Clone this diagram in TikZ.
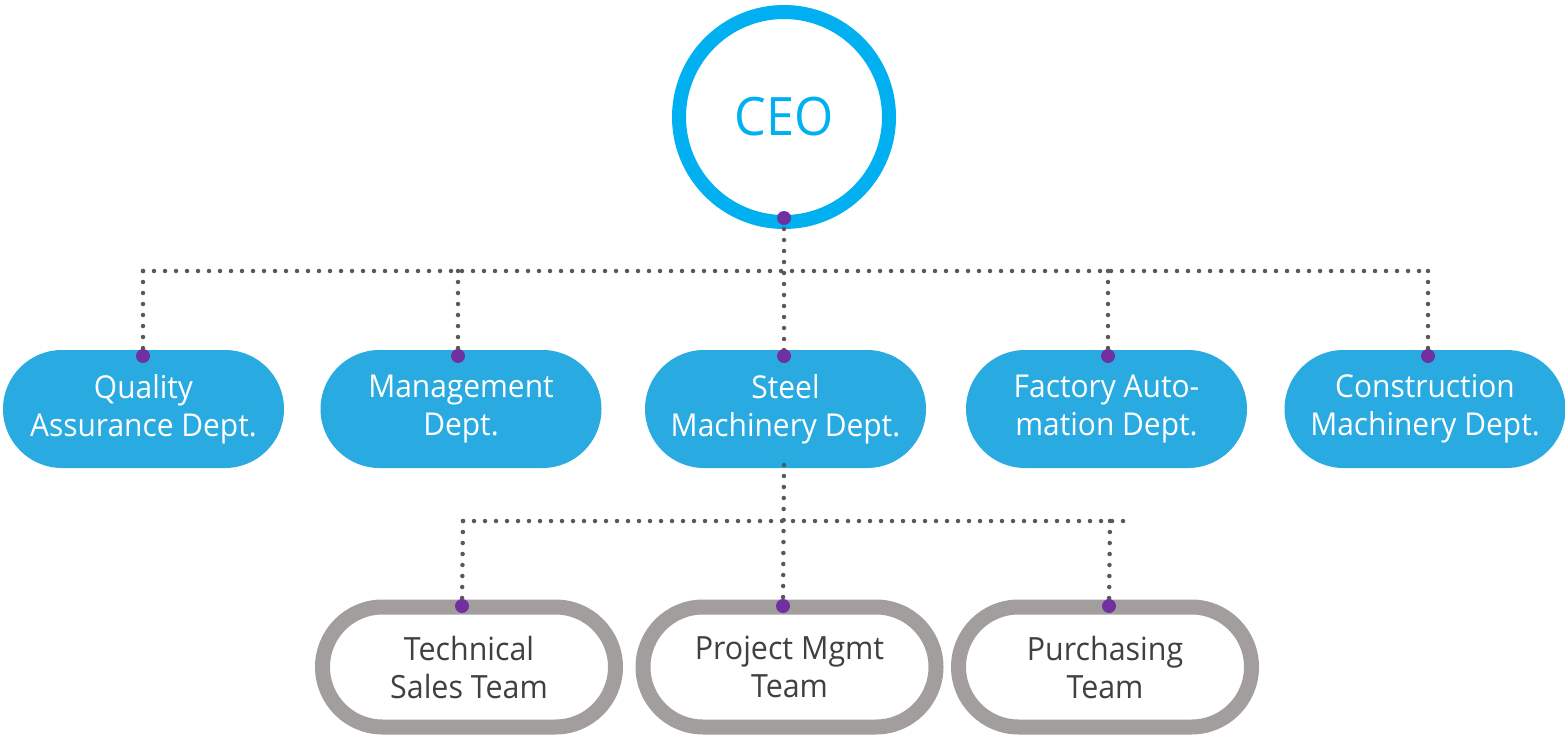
\documentclass[tikz,border=0pt]{standalone}
\usepackage{fontspec}
\setmainfont{Open Sans}[FakeStretch=0.95]
\definecolor{ceoblue}{HTML}{00B0F0}
\definecolor{deptblue}{HTML}{29ABE2}
\definecolor{ringgray}{HTML}{A39E9E}
\definecolor{dotgray}{HTML}{595959}
\definecolor{pdot}{HTML}{7030A0}
\definecolor{teamtext}{HTML}{404040}
\tikzset{
  ceobox/.style={circle, draw=ceoblue, line width=14pt, fill=white, minimum size=210pt, inner sep=0pt, text=ceoblue, font=\fontsize{53}{60}\selectfont},
  deptbox/.style={rectangle, fill=deptblue, minimum width=281pt, minimum height=118pt, rounded corners=59pt, inner sep=0pt, text=white, align=center, font=\fontsize{31.5}{38}\selectfont},
  teambox/.style={rectangle, draw=ringgray, line width=15pt, fill=white, minimum width=293pt, minimum height=120pt, rounded corners=60pt, inner sep=0pt, text=teamtext, align=center, font=\fontsize{32}{38}\selectfont},
  dotline/.style={draw=dotgray, line width=4.5pt, line cap=round, dash pattern=on 0pt off 11pt},
  pdotstyle/.style={fill=pdot, draw=none},
}
\begin{document}
\begin{tikzpicture}[x=1pt,y=-1pt]
\useasboundingbox (0,0) rectangle (1565,735);
% nodes
\node[ceobox] (ceo) at (784,117) {CEO};
\node[deptbox] (qa) at (143.5,409) {Quality\\Assurance Dept.};
\node[deptbox] (mg) at (461,409) {Management\\Dept.};
\node[deptbox] (st) at (785.5,409) {Steel\\Machinery Dept.};
\node[deptbox] (fa) at (1106.5,409) {Factory Auto-\\mation Dept.};
\node[deptbox] (cm) at (1425,409) {Construction\\Machinery Dept.};
\node[teambox] (ts) at (469,667) {Technical\\Sales Team};
\node[teambox] (pm) at (789.5,667) {Project Mgmt\\Team};
\node[teambox] (pu) at (1105,667) {Purchasing\\Team};
% connection points
\coordinate (dceo) at (784,218);
\coordinate (dqa) at (143,356);
\coordinate (dmg) at (458,356);
\coordinate (dst) at (784,356);
\coordinate (dfa) at (1108,356);
\coordinate (dcm) at (1428,356);
\coordinate (dts) at (462,606);
\coordinate (dpm) at (783,606);
\coordinate (dpu) at (1109,606);
\coordinate (bst) at (784,465);
\coordinate (h1) at (143,271);
\coordinate (h1e) at (1428,271);
\coordinate (h2) at (463,521);
\coordinate (h2e) at (1128,521);
% connectors level 1
\draw[dotline] (dceo) -- (dst);
\draw[dotline] (h1) -- (h1e);
\draw[dotline] (h1) -- (dqa);
\draw[dotline] (dmg |- h1) -- (dmg);
\draw[dotline] (dfa |- h1) -- (dfa);
\draw[dotline] (h1e) -- (dcm);
% connectors level 2
\draw[dotline] (bst) -- (dpm);
\draw[dotline] (h2) -- (h2e);
\draw[dotline] (h2) -- (dts);
\draw[dotline] (1110,521) -- (dpu);
% purple dots
\foreach \p in {dceo,dqa,dmg,dst,dfa,dcm,dts,dpm,dpu}
  \fill[pdotstyle] (\p) circle (7pt);
\end{tikzpicture}
\end{document}
